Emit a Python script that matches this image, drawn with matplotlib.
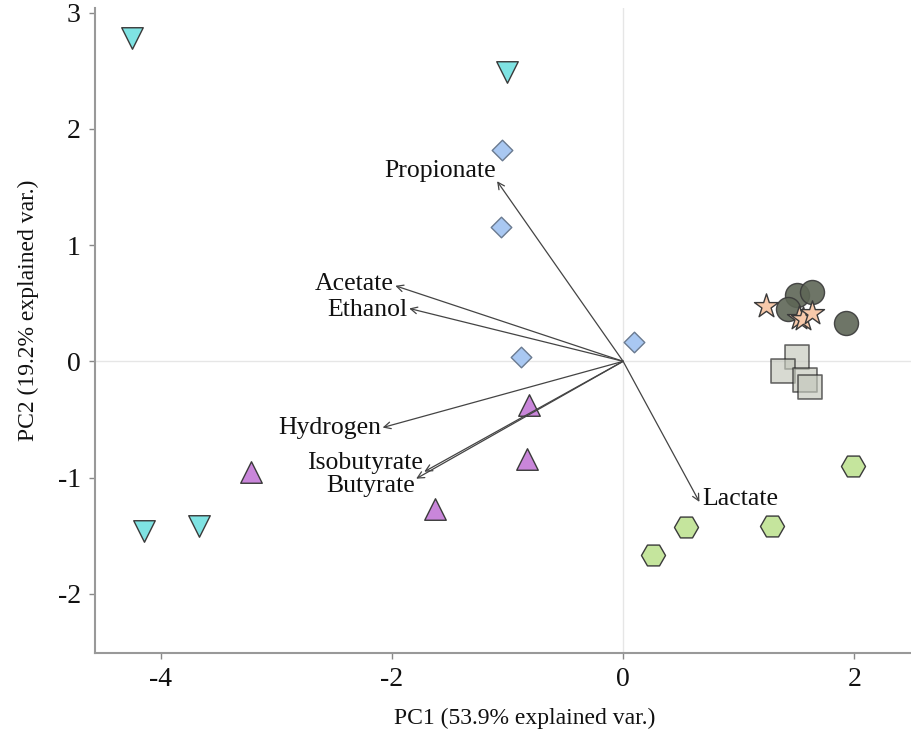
import matplotlib.pyplot as plt

plt.rcParams['font.family'] = ['Liberation Serif', 'DejaVu Serif']
plt.rcParams['axes.unicode_minus'] = False

# sample scores (PC1, PC2) per group
g1_x = [-4.25, -1.00, -4.14, -3.67]
g1_y = [2.78, 2.49, -1.46, -1.42]
g2_x = [-1.05, -1.06, -0.88, 0.09]
g2_y = [1.82, 1.16, 0.04, 0.17]
g3_x = [-0.81, -0.83, -3.22, -1.63]
g3_y = [-0.38, -0.84, -0.95, -1.27]
g4_x = [1.50, 1.63, 1.43, 1.93]
g4_y = [0.57, 0.60, 0.45, 0.33]
g5_x = [1.24, 1.52, 1.56, 1.63]
g5_y = [0.48, 0.375, 0.36, 0.42]
g6_x = [1.50, 1.38, 1.57, 1.62]
g6_y = [0.04, -0.08, -0.16, -0.22]
g7_x = [1.99, 1.29, 0.54, 0.26]
g7_y = [-0.90, -1.42, -1.43, -1.67]

# variable loadings
var_names = ['Propionate', 'Acetate', 'Ethanol', 'Hydrogen', 'Isobutyrate', 'Butyrate', 'Lactate']
var_x = [-1.09, -1.97, -1.85, -2.08, -1.72, -1.79, 0.66]
var_y = [1.55, 0.65, 0.455, -0.57, -0.95, -1.01, -1.21]

fig = plt.figure(figsize=(9.11, 7.35), dpi=100)
ax = fig.add_axes([0.104, 0.1116, 0.896, 0.8774])

ax.axhline(0, color='#e6e6e6', lw=1, zorder=0)
ax.axvline(0, color='#e6e6e6', lw=1, zorder=0)

ec = '#3a3a3a'
ax.scatter(g1_x, g1_y, marker='v', s=240, c='#7fe3e3', edgecolors=ec, linewidths=1, zorder=3)
ax.scatter(g2_x, g2_y, marker='D', s=110, c='#a9c8f2', edgecolors='#6a7a90', linewidths=1, zorder=3)
ax.scatter(g3_x, g3_y, marker='^', s=240, c='#c986da', edgecolors=ec, linewidths=1, zorder=3)
ax.scatter(g4_x, g4_y, marker='o', s=300, c='#5e6656', edgecolors=ec, linewidths=1, alpha=0.9, zorder=3)
ax.scatter(g5_x, g5_y, marker='*', s=330, c='#f7c9aa', edgecolors=ec, linewidths=1, zorder=4)
ax.scatter(g6_x, g6_y, marker='s', s=300, c='#c3c7bb', edgecolors='#222222', linewidths=1.2, alpha=0.65, zorder=3)
ax.scatter(g7_x, g7_y, marker='H', s=300, c='#c5e59d', edgecolors=ec, linewidths=1, zorder=3)

offsets = [(0, 7), (0, 1), (0, -1), (0, 0), (0, 6), (0, -5), (0, 2)]
for name, vx, vy, off in zip(var_names, var_x, var_y, offsets):
    ax.annotate('', xy=(vx, vy), xytext=(0, 0),
                arrowprops=dict(arrowstyle='->', color='#444444', lw=0.9,
                                shrinkA=0, shrinkB=0, mutation_scale=12))
    ha = 'left' if vx > 0 else 'right'
    ax.annotate(name, xy=(vx, vy), xytext=(off[0] + (2 if vx > 0 else -1), off[1]),
                textcoords='offset points', ha=ha, va='center', fontsize=18.5, color='#111111')

ax.set_xlim(-4.57, 2.49)
ax.set_ylim(-2.51, 3.04)
ax.set_xticks([-4, -2, 0, 2])
ax.set_yticks([-2, -1, 0, 1, 2, 3])
ax.tick_params(labelsize=20, colors='#888888', length=4, width=1, labelcolor='#111111', pad=6)
for s in ['top', 'right']:
    ax.spines[s].set_visible(False)
for s in ['left', 'bottom']:
    ax.spines[s].set_color('#999999')
    ax.spines[s].set_linewidth(1.5)

fig.text(0.576, 0.022, 'PC1 (53.9% explained var.)', ha='center', va='center', fontsize=17, color='#111111')
fig.text(0.031, 0.578, 'PC2 (19.2% explained var.)', ha='center', va='center', rotation=90, fontsize=17, color='#111111')

fig.savefig('out.png', dpi=100)
